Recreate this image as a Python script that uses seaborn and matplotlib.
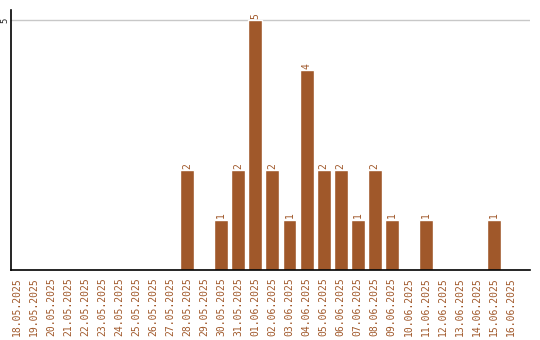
import matplotlib
matplotlib.use("Agg")
import matplotlib.pyplot as plt
import seaborn as sns
import pandas as pd

dates = ["18.05.2025", "19.05.2025", "20.05.2025", "21.05.2025", "22.05.2025",
         "23.05.2025", "24.05.2025", "25.05.2025", "26.05.2025", "27.05.2025",
         "28.05.2025", "29.05.2025", "30.05.2025", "31.05.2025", "01.06.2025",
         "02.06.2025", "03.06.2025", "04.06.2025", "05.06.2025", "06.06.2025",
         "07.06.2025", "08.06.2025", "09.06.2025", "10.06.2025", "11.06.2025",
         "12.06.2025", "13.06.2025", "14.06.2025", "15.06.2025", "16.06.2025"]
counts = [0, 0, 0, 0, 0, 0, 0, 0, 0, 0,
          2, 0, 1, 2, 5, 2, 1, 4, 2, 2,
          1, 2, 1, 0, 1, 0, 0, 0, 1, 0]

df = pd.DataFrame({"date": dates, "count": counts})
color = "#A0582A"

sns.set_style("white")
plt.rcParams["font.family"] = ["DejaVu Sans Mono"]

fig = plt.figure(figsize=(5.4, 3.4), dpi=100)
ax = fig.add_axes([11/540, 70/340, 519/540, 260/340])
sns.barplot(data=df, x="date", y="count", color=color, width=0.82,
            saturation=1, ax=ax)

ax.set_xlim(-0.35, len(dates) - 1 + 1.12)
ax.set_ylim(0, 5.2)
ax.set_yticks([5])
ax.set_yticklabels(["5"], rotation=90, va="center", fontsize=6.5)
ax.yaxis.grid(True, color="#c8c8c8", linewidth=1)
ax.set_axisbelow(True)
ax.tick_params(axis="y", length=0, pad=1)
ax.tick_params(axis="x", length=0, pad=5)
ax.set_xticks(range(len(dates)))
ax.set_xticklabels(dates, rotation=90, fontsize=7, color=color)
ax.set_xlabel("")
ax.set_ylabel("")
for s in ["top", "right"]:
    ax.spines[s].set_visible(False)
for s in ["left", "bottom"]:
    ax.spines[s].set_color("black")
    ax.spines[s].set_linewidth(1.2)

for i, v in enumerate(counts):
    if v > 0:
        ax.text(i, v + 0.03, str(v), rotation=90, ha="center", va="bottom",
                fontsize=7, color=color)

fig.savefig("out.png", dpi=100)
